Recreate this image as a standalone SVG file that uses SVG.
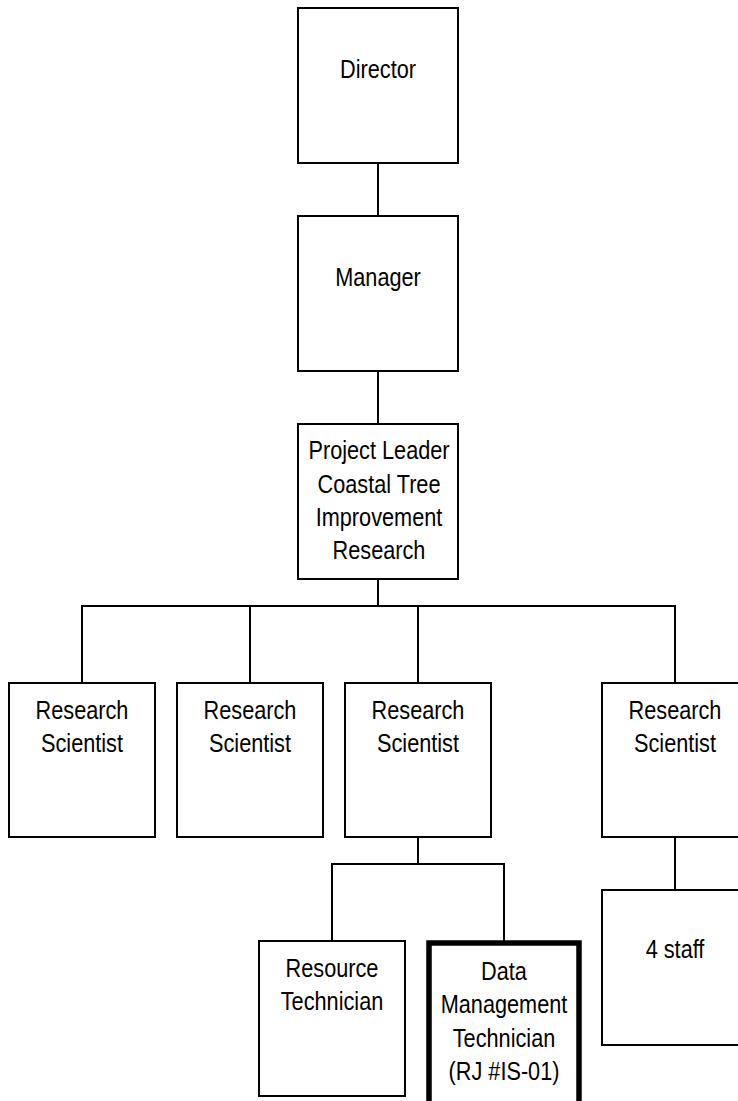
<svg xmlns="http://www.w3.org/2000/svg" width="738" height="1101" viewBox="0 0 738 1101">
<style>
.box{fill:#fff;stroke:#000;stroke-width:2}
.thick{fill:#fff;stroke:#000;stroke-width:5.5}
.ln{fill:none;stroke:#000;stroke-width:2}
text{font-family:"Liberation Sans",Arial,sans-serif;font-size:26px;fill:#000;text-anchor:middle}
</style>
<rect width="738" height="1101" fill="#fff"/>
<g id="connectors">
<line class="ln" x1="378" y1="163" x2="378" y2="216"/>
<line class="ln" x1="378" y1="371" x2="378" y2="424"/>
<line class="ln" x1="378" y1="579" x2="378" y2="606"/>
<polyline class="ln" points="82,683 82,606 675,606 675,683"/>
<line class="ln" x1="250" y1="606" x2="250" y2="683"/>
<line class="ln" x1="418" y1="606" x2="418" y2="683"/>
<line class="ln" x1="418" y1="837" x2="418" y2="864"/>
<polyline class="ln" points="332,941 332,864 504,864 504,941"/>
<line class="ln" x1="675" y1="837" x2="675" y2="890"/>
</g>
<g id="director">
<rect class="box" x="298" y="8" width="160" height="155"/>
<text transform="translate(378,78) scale(0.835,1)">Director</text>
</g>
<g id="manager">
<rect class="box" x="298" y="216" width="160" height="155"/>
<text transform="translate(378,286) scale(0.835,1)">Manager</text>
</g>
<g id="project-leader">
<rect class="box" x="298" y="424" width="160" height="155"/>
<text transform="translate(379,459) scale(0.835,1)">Project Leader</text>
<text transform="translate(379,492.5) scale(0.835,1)">Coastal Tree</text>
<text transform="translate(379,526) scale(0.835,1)">Improvement</text>
<text transform="translate(379,559) scale(0.835,1)">Research</text>
</g>
<g id="rs1">
<rect class="box" x="9" y="683" width="146" height="154"/>
<text transform="translate(82,719) scale(0.835,1)">Research</text>
<text transform="translate(82,752) scale(0.835,1)">Scientist</text>
</g>
<g id="rs2">
<rect class="box" x="177" y="683" width="146" height="154"/>
<text transform="translate(250,719) scale(0.835,1)">Research</text>
<text transform="translate(250,752) scale(0.835,1)">Scientist</text>
</g>
<g id="rs3">
<rect class="box" x="345" y="683" width="146" height="154"/>
<text transform="translate(418,719) scale(0.835,1)">Research</text>
<text transform="translate(418,752) scale(0.835,1)">Scientist</text>
</g>
<g id="rs4">
<rect class="box" x="602" y="683" width="146" height="154"/>
<text transform="translate(675,719) scale(0.835,1)">Research</text>
<text transform="translate(675,752) scale(0.835,1)">Scientist</text>
</g>
<g id="resource-technician">
<rect class="box" x="259" y="941" width="146" height="155"/>
<text transform="translate(332,977) scale(0.835,1)">Resource</text>
<text transform="translate(332,1010) scale(0.835,1)">Technician</text>
</g>
<g id="data-management-technician">
<rect class="thick" x="429" y="943" width="150" height="170"/>
<text transform="translate(504,980) scale(0.835,1)">Data</text>
<text transform="translate(504,1013) scale(0.835,1)">Management</text>
<text transform="translate(504,1046.5) scale(0.835,1)">Technician</text>
<text transform="translate(504,1080) scale(0.835,1)">(RJ #IS-01)</text>
</g>
<g id="four-staff">
<rect class="box" x="602" y="890" width="146" height="155"/>
<text transform="translate(675,958) scale(0.835,1)">4 staff</text>
</g>
</svg>
